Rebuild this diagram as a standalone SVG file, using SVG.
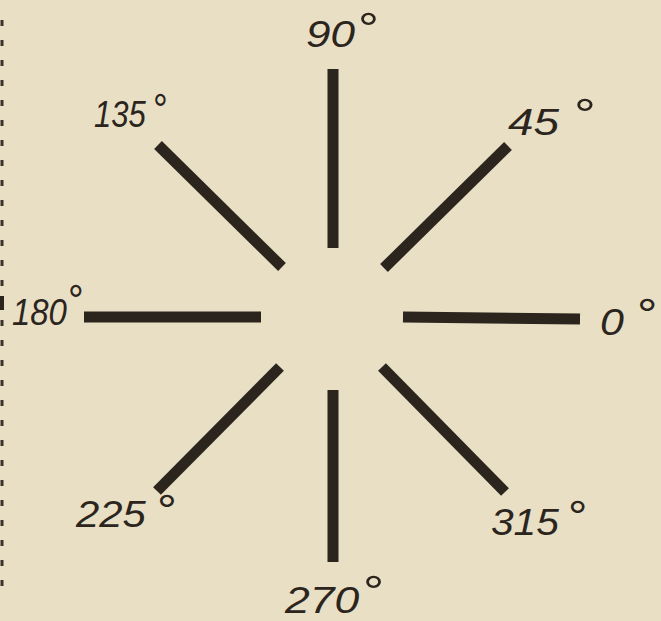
<svg xmlns="http://www.w3.org/2000/svg" width="661" height="621" viewBox="0 0 661 621">
<style>
.bg{fill:#e8dfc5}
.spoke{stroke:#2b251d;stroke-width:11;stroke-linecap:butt;fill:none}
.lbl{font-family:"Liberation Sans",Arial,sans-serif;font-style:italic;font-size:37px;fill:#2b251d}
.deg{font-style:normal;font-size:44px}
.edge{stroke:#3a3328;stroke-width:3;stroke-dasharray:6 14;fill:none}
</style>
<rect class="bg" x="0" y="0" width="661" height="621"/>
<path class="edge" d="M2 20 V600"/>
<rect x="0" y="296" width="4" height="14" fill="#2b251d"/>
<g id="spokes">
<line class="spoke" x1="333" y1="69" x2="333" y2="248"/>
<line class="spoke" x1="508" y1="146" x2="384" y2="268"/>
<line class="spoke" x1="158" y1="145" x2="282" y2="267"/>
<line class="spoke" x1="84" y1="317" x2="261" y2="317"/>
<line class="spoke" x1="403" y1="317" x2="580" y2="319"/>
<line class="spoke" x1="280" y1="367" x2="157" y2="491"/>
<line class="spoke" x1="382" y1="367" x2="505" y2="492"/>
<line class="spoke" x1="333" y1="390" x2="333" y2="562"/>
</g>
<g id="label-90"><text class="lbl" transform="translate(306 47) scale(1.19 1)">90<tspan class="deg" x="43.7" y="-3">°</tspan></text></g>
<g id="label-45"><text class="lbl" transform="translate(508 135) scale(1.24 1)">45<tspan class="deg" x="53.2" y="-5">°</tspan></text></g>
<g id="label-135"><text class="lbl" transform="translate(94 127) scale(0.84 1)">135<tspan class="deg" x="70.2" y="-2">°</tspan></text></g>
<g id="label-180"><text class="lbl" transform="translate(12 325) scale(0.89 1)">180<tspan class="deg" x="62.9" y="-9">°</tspan></text></g>
<g id="label-0"><text class="lbl" transform="translate(600 335) scale(1.16 1)">0<tspan class="deg" x="31.9" y="-5">°</tspan></text></g>
<g id="label-225"><text class="lbl" transform="translate(76 527) scale(1.13 1)">225<tspan class="deg" x="71.7" y="-1">°</tspan></text></g>
<g id="label-315"><text class="lbl" transform="translate(491 535) scale(1.10 1)">315<tspan class="deg" x="70" y="-3">°</tspan></text></g>
<g id="label-270"><text class="lbl" transform="translate(285 613) scale(1.20 1)">270<tspan class="deg" x="65" y="-6">°</tspan></text></g>
</svg>
